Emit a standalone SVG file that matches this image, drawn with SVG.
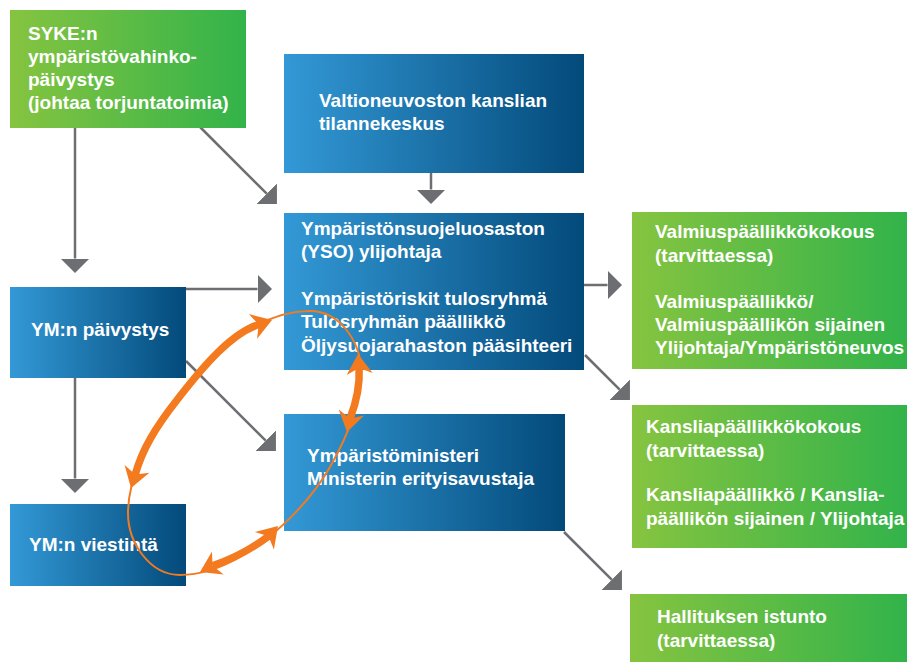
<svg xmlns="http://www.w3.org/2000/svg" width="907" height="662" viewBox="0 0 907 662">
<style>
.t{font-family:"Liberation Sans",Arial,"DejaVu Sans",sans-serif;font-weight:bold;font-size:19px;fill:#ffffff}
.c{fill:none;stroke:#6d6e71;stroke-width:2.5;marker-end:url(#ah)}
.thin{fill:none;stroke:#f47a20;stroke-width:2}
.thick{fill:none;stroke:#f47a20;stroke-width:7.5}
.oh{fill:#f47a20}
</style>
<defs>
<linearGradient id="gBlue" x1="0" y1="0" x2="1" y2="0">
<stop offset="0" stop-color="#3399d6"/>
<stop offset="1" stop-color="#034a7a"/>
</linearGradient>
<linearGradient id="gGreen" x1="0" y1="0" x2="1" y2="0">
<stop offset="0" stop-color="#86c440"/>
<stop offset="1" stop-color="#32b34a"/>
</linearGradient>
<marker id="ah" markerUnits="userSpaceOnUse" viewBox="0 0 15 29" markerWidth="15" markerHeight="29" refX="0" refY="14.5" orient="auto">
<path d="M0,0 L14.5,14.5 L0,29 Z" fill="#6d6e71"/>
</marker>
</defs>

<g id="connectors">
<path class="c" d="M75,128 V258.5"/>
<path class="c" d="M200,127 L266.7,193.7"/>
<path class="c" d="M431,173 V189.5"/>
<path class="c" d="M186,289 H257.5"/>
<path class="c" d="M186,361 L265.7,440.7"/>
<path class="c" d="M75,378 V478.5"/>
<path class="c" d="M584,285 H607.5"/>
<path class="c" d="M585,355 L619.7,389.7"/>
<path class="c" d="M564,532 L611.7,579.7"/>
</g>

<g id="syke">
<rect x="10" y="10" width="236" height="118" fill="url(#gGreen)"/>
<text class="t"><tspan x="28" y="40">SYKE:n</tspan><tspan x="28" y="63">ympäristövahinko-</tspan><tspan x="28" y="86">päivystys</tspan><tspan x="28" y="109">(johtaa torjuntatoimia)</tspan></text>
</g>

<g id="vnk">
<rect x="284" y="54" width="300" height="119" fill="url(#gBlue)"/>
<text class="t"><tspan x="319" y="107">Valtioneuvoston kanslian</tspan><tspan x="319" y="130">tilannekeskus</tspan></text>
</g>

<g id="yso">
<rect x="284" y="213" width="300" height="157" fill="url(#gBlue)"/>
<text class="t"><tspan x="301" y="235">Ympäristönsuojeluosaston</tspan><tspan x="301" y="258">(YSO) ylijohtaja</tspan><tspan x="301" y="305">Ympäristöriskit tulosryhmä</tspan><tspan x="301" y="328">Tulosryhmän päällikkö</tspan><tspan x="301" y="352">Öljysuojarahaston pääsihteeri</tspan></text>
</g>

<g id="ym-paivystys">
<rect x="10" y="287" width="176" height="91" fill="url(#gBlue)"/>
<text class="t" x="31" y="336">YM:n päivystys</text>
</g>

<g id="ym-viestinta">
<rect x="10" y="504" width="176" height="82" fill="url(#gBlue)"/>
<text class="t" x="29" y="551">YM:n viestintä</text>
</g>

<g id="ministeri">
<rect x="284" y="414" width="281" height="117" fill="url(#gBlue)"/>
<text class="t"><tspan x="307" y="462">Ympäristöministeri</tspan><tspan x="307" y="485">Ministerin erityisavustaja</tspan></text>
</g>

<g id="valmius">
<rect x="632" y="212" width="275" height="157" fill="url(#gGreen)"/>
<text class="t"><tspan x="655" y="238">Valmiuspäällikkökokous</tspan><tspan x="655" y="262">(tarvittaessa)</tspan><tspan x="655" y="308">Valmiuspäällikkö/</tspan><tspan x="655" y="331">Valmiuspäällikön sijainen</tspan><tspan x="655" y="354">Ylijohtaja/Ympäristöneuvos</tspan></text>
</g>

<g id="kanslia">
<rect x="632" y="405" width="275" height="143" fill="url(#gGreen)"/>
<text class="t"><tspan x="646" y="433">Kansliapäällikkökokous</tspan><tspan x="646" y="457">(tarvittaessa)</tspan><tspan x="646" y="501">Kansliapäällikkö / Kanslia-</tspan><tspan x="646" y="525">päällikön sijainen / Ylijohtaja</tspan></text>
</g>

<g id="hallitus">
<rect x="630" y="594" width="277" height="68" fill="url(#gGreen)"/>
<text class="t"><tspan x="657" y="623">Hallituksen istunto</tspan><tspan x="657" y="647">(tarvittaessa)</tspan></text>
</g>

<g id="communication-loop">
<path class="thin" d="M310,311 C340,311 361,342 361,372 C361,405 346.5,438 330,467 C310,502 274.6,537 240,557 C221.8,567.5 201,575 180,575 C150,575 128,543 128,513 C128,473 153,432 177,400 C210,356 255,311 310,311 Z"/>
<path class="thick" d="M135.2,474.6 C142,450 155,428 177,400 C205,364 232,333 259,324.5"/>
<path class="thick" d="M359.1,368 C360,385 356,403 350.1,418.4"/>
<path class="thick" d="M268.5,536.3 Q242,556 212.5,565.7"/>
<polygon class="oh" points="272,320 257.1,338.7 258.7,324.5 248.9,314.1"/>
<polygon class="oh" points="131,488 149.4,472.8 135.2,474.6 124.6,465"/>
<polygon class="oh" points="358,354 372.6,373 359.1,368 346.6,375"/>
<polygon class="oh" points="347,432 364.1,415.4 350.1,418.4 338.7,409.6"/>
<polygon class="oh" points="278,526 273.9,549.5 268.5,536.3 254.9,531.9"/>
<polygon class="oh" points="200,572 223.7,574.6 212.5,565.7 212,551.4"/>
</g>
</svg>
